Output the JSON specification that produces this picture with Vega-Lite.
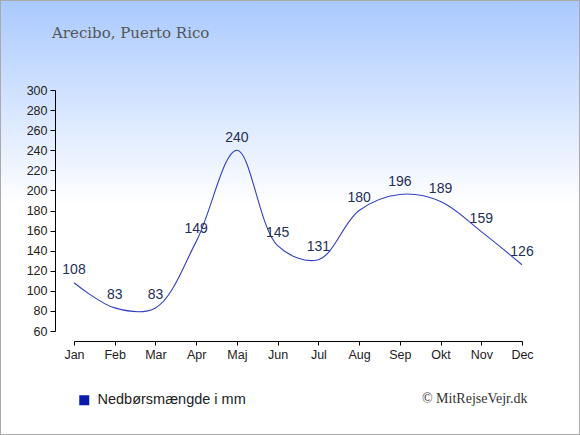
{
  "$schema": "https://vega.github.io/schema/vega-lite/v6.json",
  "width": 580,
  "height": 435,
  "autosize": {"type": "none"},
  "padding": 0,
  "background": "#ffffff",
  "config": {
    "view": {
      "fill": {
        "gradient": "linear",
        "x1": 0, "y1": 0, "x2": 0, "y2": 1,
        "stops": [
          {"offset": 0, "color": "#a9c9ff"},
          {"offset": 0.47, "color": "#ffffff"},
          {"offset": 1, "color": "#ffffff"}
        ]
      },
      "stroke": "#aaaaaa",
      "strokeWidth": 2
    }
  },
  "title": {
    "text": "Arecibo, Puerto Rico",
    "anchor": "start",
    "frame": "group",
    "orient": "top",
    "offset": -53,
    "dx": 52,
    "baseline": "alphabetic",
    "font": "DejaVu Serif",
    "fontSize": 15,
    "fontWeight": "normal",
    "color": "#555555"
  },
  "data": {
    "values": [
      {"month": "Jan", "v": 108},
      {"month": "Feb", "v": 83},
      {"month": "Mar", "v": 83},
      {"month": "Apr", "v": 149},
      {"month": "Maj", "v": 240},
      {"month": "Jun", "v": 145},
      {"month": "Jul", "v": 131},
      {"month": "Aug", "v": 180},
      {"month": "Sep", "v": 196},
      {"month": "Okt", "v": 189},
      {"month": "Nov", "v": 159},
      {"month": "Dec", "v": 126}
    ]
  },
  "encoding": {
    "x": {
      "field": "month",
      "type": "ordinal",
      "sort": null,
      "scale": {"type": "point", "range": [74, 522], "padding": 0},
      "axis": {
        "orient": "bottom",
        "offset": -94,
        "labelAngle": 0,
        "grid": false,
        "tickSize": 4,
        "tickColor": "#000000",
        "domainColor": "#000000",
        "labelFont": "Liberation Sans",
        "labelFontSize": 12.5,
        "labelColor": "#222222",
        "labelPadding": 3,
        "title": "© MitRejseVejr.dk",
        "titleX": 527,
        "titleY": 61,
        "titleAlign": "right",
        "titleBaseline": "alphabetic",
        "titleFont": "Liberation Serif",
        "titleFontSize": 14,
        "titleFontWeight": "normal",
        "titleColor": "#333333"
      }
    },
    "y": {
      "field": "v",
      "type": "quantitative",
      "scale": {"domain": [60, 300], "range": [331, 90], "nice": false, "zero": false},
      "axis": {
        "orient": "left",
        "offset": -55,
        "values": [60, 80, 100, 120, 140, 160, 180, 200, 220, 240, 260, 280, 300],
        "title": null,
        "grid": false,
        "tickSize": 5,
        "tickColor": "#000000",
        "domainColor": "#000000",
        "labelFont": "Liberation Sans",
        "labelFontSize": 12.5,
        "labelColor": "#222222",
        "labelPadding": 3
      }
    }
  },
  "layer": [
    {
      "mark": {"type": "line", "interpolate": "catmull-rom", "strokeWidth": 1.1},
      "encoding": {
        "color": {
          "datum": "Nedbørsmængde i mm",
          "scale": {"range": ["#3340c4"]},
          "legend": {
            "title": null,
            "orient": "none",
            "legendX": 77,
            "legendY": 393,
            "symbolType": "square",
            "symbolSize": 100,
            "labelFont": "Liberation Sans",
            "labelFontSize": 14.5,
            "labelColor": "#222222",
            "labelOffset": 6,
            "encode": {
              "symbols": {
                "update": {
                  "fill": {"value": "#0a1aa8"},
                  "stroke": {"value": "#0a1aa8"},
                  "strokeWidth": {"value": 0}
                }
              }
            }
          }
        }
      }
    },
    {
      "mark": {
        "type": "text",
        "baseline": "alphabetic",
        "dy": -8.5,
        "font": "Liberation Sans",
        "fontSize": 14,
        "color": "#1e2f55"
      },
      "encoding": {"text": {"field": "v", "type": "quantitative"}}
    }
  ]
}
